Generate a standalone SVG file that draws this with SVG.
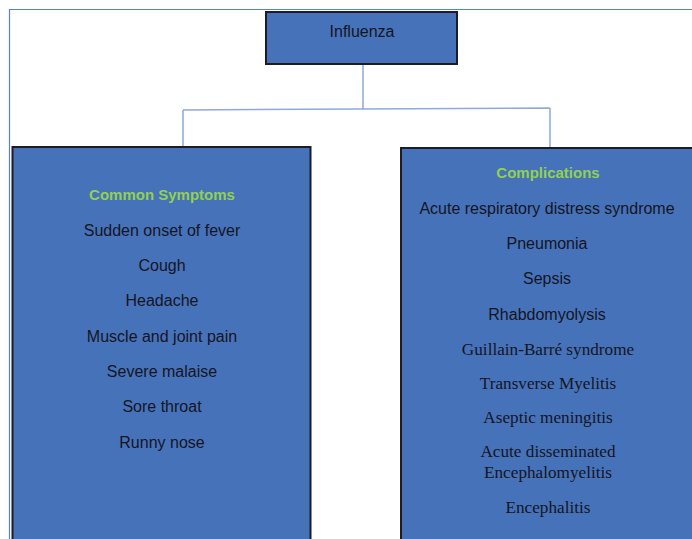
<svg xmlns="http://www.w3.org/2000/svg" width="692" height="539" viewBox="0 0 692 539">
<style>
.box{fill:#4672ba;stroke:#1c1c24;stroke-width:2}
.frame{fill:none;stroke:#5b7fc6;stroke-width:1.2}
.conn{fill:none;stroke:#8fa9dc;stroke-width:1.5}
.s{font-family:"Liberation Sans",Arial,sans-serif;font-size:16px;fill:#15151f;text-anchor:middle}
.h{font-family:"Liberation Sans",Arial,sans-serif;font-size:15px;font-weight:bold;fill:#92d050;text-anchor:middle}
.t{font-family:"Liberation Serif","Times New Roman",serif;font-size:17.2px;fill:#15151f;text-anchor:middle}
</style>
<rect width="692" height="539" fill="#fff"/>
<path class="frame" d="M9.5,539 V9.5 H692"/>
<g id="connectors">
<path class="conn" d="M363,64 V109 M183,110 L550,108 M183,110 V147 M550,108 V148"/>
</g>
<g id="influenza">
<rect class="box" x="266" y="12" width="191" height="52"/>
<text class="s" x="362" y="37">Influenza</text>
</g>
<g id="symptoms">
<rect class="box" x="12.5" y="147" width="298" height="400"/>
<text class="h" x="162" y="200">Common Symptoms</text>
<text class="s" x="162" y="236">Sudden onset of fever</text>
<text class="s" x="162" y="271">Cough</text>
<text class="s" x="162" y="306">Headache</text>
<text class="s" x="162" y="342">Muscle and joint pain</text>
<text class="s" x="162" y="377">Severe malaise</text>
<text class="s" x="162" y="412">Sore throat</text>
<text class="s" x="162" y="448">Runny nose</text>
</g>
<g id="complications">
<rect class="box" x="401" y="148" width="300" height="400"/>
<text class="h" x="548" y="178">Complications</text>
<text class="s" x="547" y="214">Acute respiratory distress syndrome</text>
<text class="s" x="547" y="249">Pneumonia</text>
<text class="s" x="547" y="284">Sepsis</text>
<text class="s" x="547" y="320">Rhabdomyolysis</text>
<text class="t" x="548" y="355">Guillain-Barré syndrome</text>
<text class="t" x="548" y="389">Transverse Myelitis</text>
<text class="t" x="548" y="423">Aseptic meningitis</text>
<text class="t" x="548" y="457">Acute disseminated</text>
<text class="t" x="548" y="478">Encephalomyelitis</text>
<text class="t" x="548" y="513">Encephalitis</text>
</g>
</svg>
